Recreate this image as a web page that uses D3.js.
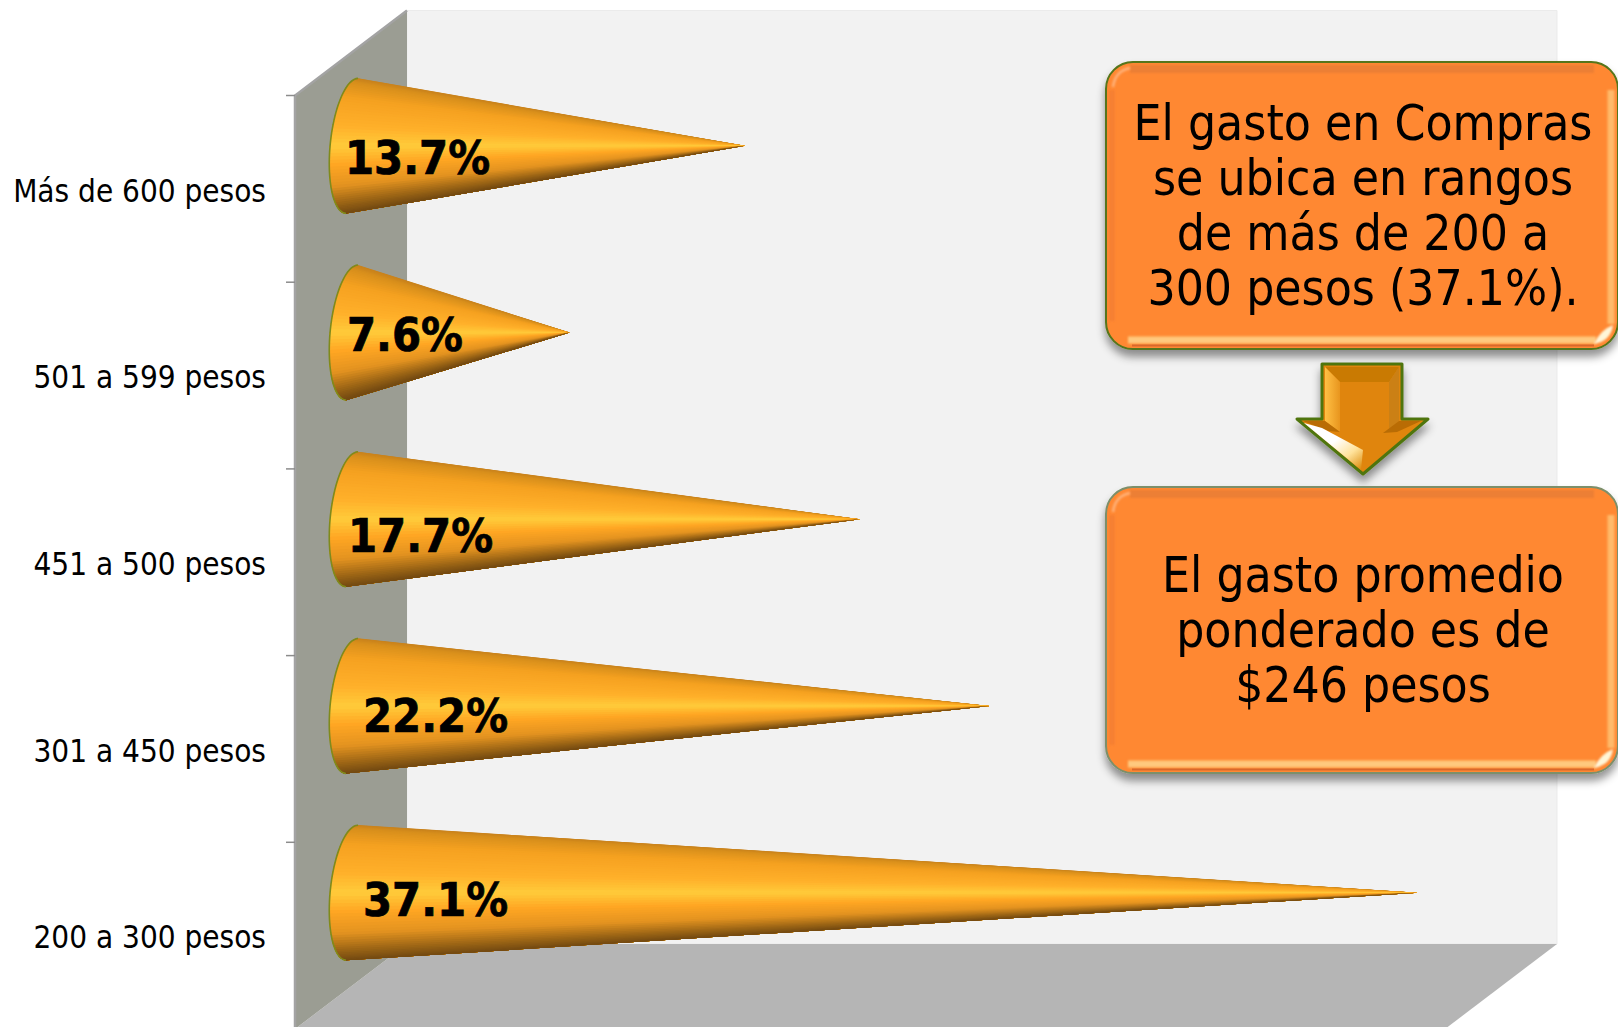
<!DOCTYPE html>
<html>
<head>
<meta charset="utf-8">
<script src="https://cdn.jsdelivr.net/npm/d3@7"></script>
<style>
    html, body { margin: 0; padding: 0; background: #fff; overflow: hidden; }
    svg { display: block; }
    text { font-family: "DejaVu Sans Condensed", "DejaVu Sans", sans-serif; fill: #000; }
</style>
</head>
<body>
<svg id="chart"></svg>
<script>
// data, top to bottom as in the picture
const categories = ['Más de 600 pesos', '501 a 599 pesos', '451 a 500 pesos', '301 a 450 pesos', '200 a 300 pesos'];
const values = [13.7, 7.6, 17.7, 22.2, 37.1];
const axisMax = 40;
const noteTop = ['El gasto en Compras', 'se ubica en rangos', 'de más de 200 a', '300 pesos (37.1%).'];
const noteBottom = ['El gasto promedio', 'ponderado es de', '$246 pesos'];

const W = 1618, H = 1027;
const depth = { x: 112, y: -85 };   // 3d depth of the walls

const svg = d3.select('#chart').attr('width', W).attr('height', H);
const defs = svg.append('defs');

const x = d3.scaleLinear().domain([0, axisMax]).range([295, 1445]);
const y = d3.scaleBand().domain(categories).range([95.5, 1029]);

// walls
const line = d3.line();
const x0 = x(0), x1 = x(axisMax), yTop = y.range()[0], yBot = y.range()[1];

svg.append('path')
    .attr('d', line([[x0 + depth.x, yTop + depth.y], [x1 + depth.x, yTop + depth.y], [x1 + depth.x, yBot + depth.y], [x0 + depth.x, yBot + depth.y]]) + 'Z')
    .attr('fill', '#f2f2f2').attr('stroke', '#ebebeb').attr('stroke-width', 1);
svg.append('path')
    .attr('d', line([[x0 + depth.x, yBot + depth.y], [x1 + depth.x, yBot + depth.y], [x1, yBot], [x0, yBot]]) + 'Z')
    .attr('fill', '#b5b5b5');
svg.append('path')
    .attr('d', line([[x0, yTop], [x0 + depth.x, yTop + depth.y], [x0 + depth.x, yBot + depth.y], [x0, yBot]]) + 'Z')
    .attr('fill', '#9b9d93');
svg.append('path')
    .attr('d', line([[x0 + depth.x, yTop + depth.y], [x0, yTop], [x0, yBot]]))
    .attr('fill', 'none').attr('stroke', '#a3a3a3').attr('stroke-width', 2.5);

// axis labels sit mid band, ticks on the band edges
const axis = svg.append('g')
    .attr('transform', `translate(${x0 - 29},0)`)
    .call(d3.axisLeft(y).tickSize(0).tickPadding(0));
axis.select('.domain').remove();
axis.selectAll('text').style('font-size', '31.2px').attr('dy', '0.41em');

svg.selectAll('line.tick')
    .data(categories)
    .enter()
    .append('line')
    .attr('class', 'tick')
    .attr('x1', x0 - 9).attr('x2', x0)
    .attr('y1', d => y(d)).attr('y2', d => y(d))
    .attr('stroke', '#8c8c8c').attr('stroke-width', 1.5);

// cones: nested wedges from the base ellipse to the tip, so the shading meets at the point
const coneColor = d3.scaleLinear()
    .domain([0, 0.03, 0.14, 0.35, 0.5, 0.64, 0.8, 0.93, 1])
    .range(['#c9821c', '#d9901c', '#f5a120', '#ffb02a', '#ffcb3a', '#ffa623', '#e39320', '#9a6415', '#744a12']);
const coneR = y.step() * 0.362, coneB = 22, coneLean = 6;
const slices = d3.range(0, 60);

function conePoint(cx, cy, t) {
    const a = Math.PI * t;
    const ca = Math.cos(a), sa = Math.sin(a);
    return [cx + coneLean * ca - coneB * sa, cy - coneR * ca];
}

const cones = svg.selectAll('g.cone')
    .data(categories.map((c, i) => ({ c, v: values[i] })))
    .enter()
    .append('g')
    .attr('class', 'cone');

cones.each(function (d) {
    const g = d3.select(this);
    const cx = x0 + depth.x / 2 + 1;
    const cy = y(d.c) + y.bandwidth() / 2 - 43;
    const tip = [x(d.v) + depth.x / 2, cy];
    g.selectAll('path.slice')
        .data(slices)
        .enter()
        .append('path')
        .attr('class', 'slice')
        .attr('d', s => {
            const pts = [tip];
            const f0 = s / slices.length;
            for (let k = 0; k <= 24; k++) pts.push(conePoint(cx, cy, f0 + (1 - f0) * k / 24));
            return line(pts) + 'Z';
        })
        .attr('fill', s => {
            const f0 = (s + 0.5) / slices.length;
            return coneColor((1 - Math.cos(Math.PI * f0)) / 2);
        });
    const rim = d3.range(0, 25).map(k => conePoint(cx, cy, k / 24));
    g.append('path')
        .attr('d', d3.line().curve(d3.curveBasis)(rim))
        .attr('fill', 'none').attr('stroke', '#7f8a1c').attr('stroke-width', 1.6);
});

// value labels do not line up in the original, they were nudged by hand
const labelOffset = [[-6, 28], [-4, 18], [-3, 33], [12, 26], [12, 23]];
cones.append('text')
    .attr('x', (d, i) => x0 + depth.x / 2 + labelOffset[i][0])
    .attr('y', (d, i) => y(d.c) + y.bandwidth() / 2 - 43 + labelOffset[i][1])
    .attr('font-weight', 'bold')
    .attr('stroke', '#000').attr('stroke-width', 0.7)
    .style('font-size', '46.5px')
    .text(d => d3.format('.1f')(d.v) + '%');

// notes
defs.append('filter').attr('id', 'shadow')
    .attr('x', '-10%').attr('y', '-10%').attr('width', '120%').attr('height', '125%')
    .append('feDropShadow')
    .attr('dx', 0).attr('dy', 7).attr('stdDeviation', 4)
    .attr('flood-color', '#000').attr('flood-opacity', 0.42);
// user space units: a straight strip has an empty bounding box and would vanish otherwise
defs.append('filter').attr('id', 'soft')
    .attr('filterUnits', 'userSpaceOnUse')
    .attr('x', 0).attr('y', 0).attr('width', W).attr('height', H)
    .append('feGaussianBlur').attr('stdDeviation', 1.3);

function note(box, lines, baseline, borderColor) {
    const g = svg.append('g');
    const l = box.x, r = box.x + box.w, t = box.y, b = box.y + box.h;
    g.append('rect')
        .attr('x', l).attr('y', t).attr('width', box.w).attr('height', box.h)
        .attr('rx', 27).attr('fill', '#ff8833')
        .attr('stroke', borderColor).attr('stroke-width', 2)
        .attr('filter', 'url(#shadow)');
    // bevel strips
    const strip = (d, color, w) => g.append('path').attr('d', d)
        .attr('fill', 'none').attr('stroke', color).attr('stroke-width', w).attr('filter', 'url(#soft)');
    strip(`M${l + 24},${t + 7}H${r - 24}`, '#ec7f36', 8);
    strip(`M${l + 6},${t + 28}V${b - 28}`, '#f57f30', 5);
    strip(`M${l + 22},${b - 9}H${r - 22}`, '#ffc97e', 7);
    strip(`M${r - 7},${t + 28}V${b - 25}`, '#ffba6a', 7);
    strip(`M${l + 7},${t + 25}Q${l + 9},${t + 9} ${l + 24},${t + 6}`, '#ffb27a', 2.5);
    g.append('path')
        .attr('d', `M${r - 5},${b - 24}Q${r - 7},${b - 8} ${r - 24},${b - 5}Q${r - 18},${b - 19} ${r - 5},${b - 24}Z`)
        .attr('fill', '#fff6d8').attr('filter', 'url(#soft)');
    g.append('path')
        .attr('d', `M${r - 24},${b - 3.5}H${l + 26}`)
        .attr('stroke', '#d9682b').attr('stroke-width', 2).attr('fill', 'none');
    g.selectAll('text')
        .data(lines)
        .enter()
        .append('text')
        .attr('x', box.x + 257)
        .attr('y', (d, i) => baseline + i * 55)
        .attr('text-anchor', 'middle')
        .style('font-size', '49.3px')
        .text(d => d);
}

note({ x: 1106, y: 62, w: 512, h: 287 }, noteTop, 140, '#56751a');

// arrow between the notes
const arrow = svg.append('g');
const arrowLight = defs.append('linearGradient').attr('id', 'arrowLeft')
    .attr('x1', 0).attr('y1', 0).attr('x2', 1).attr('y2', 0);
arrowLight.append('stop').attr('offset', 0).attr('stop-color', '#ffc044');
arrowLight.append('stop').attr('offset', 1).attr('stop-color', '#e8951e');
const arrowShine = defs.append('linearGradient').attr('id', 'arrowShine')
    .attr('x1', 0).attr('y1', 0).attr('x2', 1).attr('y2', 1);
arrowShine.append('stop').attr('offset', 0.45).attr('stop-color', '#fff');
arrowShine.append('stop').attr('offset', 0.72).attr('stop-color', '#ffe29a');
arrowShine.append('stop').attr('offset', 1).attr('stop-color', '#d98400');

const facet = (pts, fill) => arrow.append('path').attr('d', line(pts) + 'Z').attr('fill', fill);
facet([[1322, 364], [1402, 364], [1402, 419], [1428, 419], [1363, 474], [1297, 419], [1322, 419]], '#e08508')
    .attr('stroke', '#4f7510').attr('stroke-width', 3).attr('stroke-linejoin', 'round')
    .attr('filter', 'url(#shadow)');
facet([[1325, 367], [1399, 367], [1389, 382], [1340, 382]], '#c97a02');
facet([[1325, 367], [1340, 382], [1340, 432], [1325, 421]], 'url(#arrowLeft)');
facet([[1399, 367], [1389, 382], [1389, 430], [1399, 421]], '#cb8015');
facet([[1303, 421], [1325, 421], [1340, 432], [1328, 431]], '#b96c04');
facet([[1421, 421], [1399, 421], [1383, 433], [1397, 432]], '#b96c04');
facet([[1304, 423], [1361, 470], [1363, 450], [1322, 428]], 'url(#arrowShine)');

note({ x: 1106, y: 487, w: 512, h: 286 }, noteBottom, 592, '#7d8f6a');
</script>
</body>
</html>
